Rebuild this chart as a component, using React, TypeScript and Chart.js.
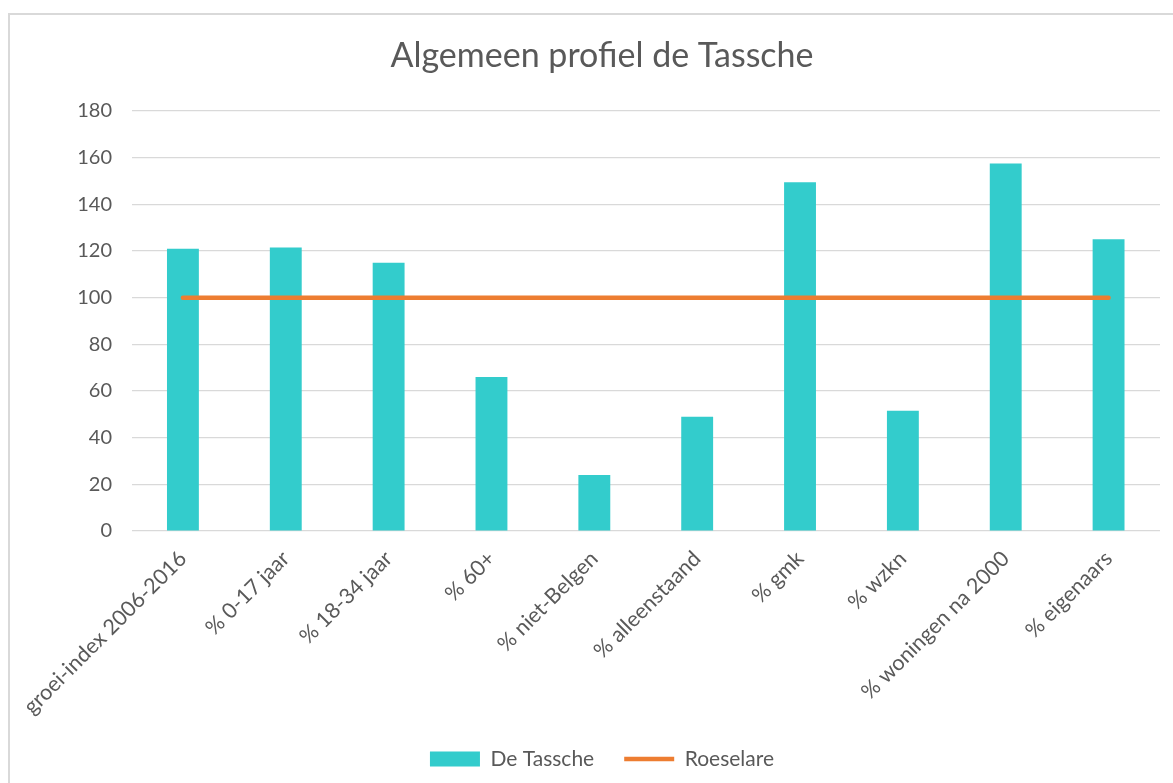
import React, { useEffect, useRef } from "react";
import { Chart, registerables } from "chart.js";

Chart.register(...registerables);

const categories: string[] = [
  "groei-index 2006-2016",
  "% 0-17 jaar",
  "% 18-34 jaar",
  "% 60+",
  "% niet-Belgen",
  "% alleenstaand",
  "% gmk",
  "% wzkn",
  "% woningen na 2000",
  "% eigenaars",
];
const tasscheValues: number[] = [121, 121.5, 115, 66, 24, 49, 149.5, 51.5, 157.5, 125];
const roeselareValues: number[] = [100, 100, 100, 100, 100, 100, 100, 100, 100, 100];
const seriesNames: string[] = ["De Tassche", "Roeselare"];
const chartTitle = "Algemeen profiel de Tassche";
const yMin = 0;
const yMax = 180;
const yStep = 20;

const FONT = "Lato";
const TEXT = "#595959";

export default function App() {
  const ref = useRef<HTMLCanvasElement | null>(null);

  useEffect(() => {
    document.body.style.overflow = "hidden";
    const canvas = ref.current;
    if (!canvas) return;
    const chart = new Chart(canvas, {
      type: "bar",
      data: {
        labels: categories,
        datasets: [
          {
            type: "bar",
            label: seriesNames[0],
            data: tasscheValues,
            backgroundColor: "#33CCCC",
            borderWidth: 0,
            categoryPercentage: 1,
            barPercentage: 0.31,
            order: 1,
          } as any,
          {
            type: "line",
            label: seriesNames[1],
            data: roeselareValues,
            borderColor: "#ED7D31",
            backgroundColor: "#ED7D31",
            borderWidth: 4.5,
            borderCapStyle: "round",
            pointRadius: 0,
            pointHoverRadius: 0,
            fill: false,
            order: 0,
          } as any,
        ],
      },
      options: {
        responsive: false,
        animation: false,
        layout: { padding: { top: 0, right: 13, bottom: 3.5, left: 34 } },
        scales: {
          x: {
            grid: { display: false },
            border: { display: false },
            ticks: {
              color: TEXT,
              font: { family: FONT, size: 21.5 },
              maxRotation: 45,
              minRotation: 45,
              autoSkip: false,
              padding: 7,
            },
            afterFit: (s: any) => {
              s.height = 187.5;
            },
          },
          y: {
            min: yMin,
            max: yMax,
            grid: { color: "#D9D9D9", lineWidth: 1.2, drawTicks: false },
            border: { display: false },
            ticks: {
              stepSize: yStep,
              color: TEXT,
              font: { family: FONT, size: 20 },
              padding: 19.5,
            },
            afterFit: (s: any) => {
              s.width = 87.5;
            },
          },
        },
        plugins: {
          title: {
            display: true,
            text: chartTitle,
            color: TEXT,
            font: { family: FONT, size: 34, weight: "normal" },
            padding: { top: 20.2, bottom: 35 },
          },
          legend: {
            position: "bottom",
            labels: {
              color: TEXT,
              font: { family: FONT, size: 21 },
              usePointStyle: true,
              pointStyleWidth: 50,
              boxHeight: 15,
              padding: 30,
              sort: (a: any, b: any) => a.datasetIndex - b.datasetIndex,
              generateLabels: (c: any) => {
                const items = Chart.defaults.plugins.legend.labels.generateLabels(c);
                return items.map((it: any) => ({
                  ...it,
                  pointStyle: it.datasetIndex === 0 ? "rect" : "line",
                }));
              },
            },
          },
          tooltip: { enabled: false },
        },
      },
    });
    return () => chart.destroy();
  }, []);

  return (
    <div style={{ position: "fixed", left: 0, top: 0, width: 1173, height: 783, overflow: "hidden", background: "#fff" }}>
      <div
        style={{
          position: "absolute",
          left: 8,
          top: 13,
          width: 1220,
          height: 820,
          border: "2px solid #D9D9D9",
          boxSizing: "border-box",
        }}
      />
      <canvas
        ref={ref}
        width={1163}
        height={768}
        style={{ position: "absolute", left: 10, top: 15, width: 1163, height: 768 }}
      />
    </div>
  );
}
